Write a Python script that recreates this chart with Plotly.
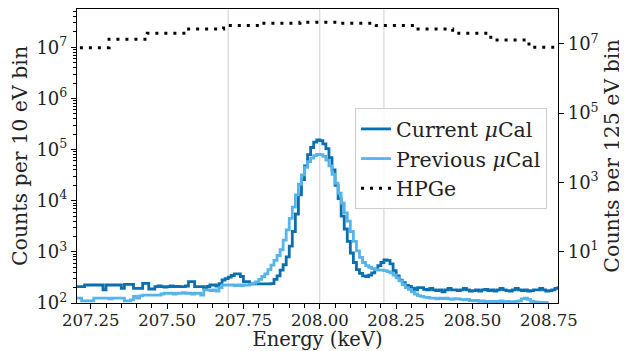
import plotly.graph_objects as go

# ---------------- data ----------------
bin_start_kev = 207.20
bin_width_kev = 0.01

current_counts = [
    209, 209, 209, 225, 225, 225, 225, 225, 225, 180,
    225, 225, 225, 225, 225, 194, 232, 232, 232, 194,
    194, 194, 243, 243, 188, 188, 209, 215, 209, 205,
    209, 215, 209, 212, 209, 209, 215, 262, 262, 209,
    209, 209, 194, 210, 225, 225, 215, 240, 282, 300,
    320, 345, 370, 370, 330, 262, 262, 236, 236, 236,
    236, 236, 236, 236, 240, 290, 340, 440, 560, 800,
    1300, 2500, 5500, 13000, 26000, 48000, 80000, 110000, 140000, 155000,
    150000, 130000, 105000, 70000, 40000, 20000, 11000, 5000, 2800, 1600,
    950, 620, 450, 380, 340, 330, 350, 390, 450, 540,
    620, 700, 680, 580, 430, 340, 280, 250, 220, 210,
    195, 180, 200, 200, 185, 180, 194, 180, 175, 180,
    166, 180, 194, 180, 180, 175, 180, 194, 180, 170,
    175, 180, 170, 180, 185, 175, 180, 170, 180, 194,
    180, 175, 170, 180, 194, 180, 175, 180, 170, 175,
    180, 180, 194, 180, 170, 175, 180, 194, 200, 190,
]

previous_counts = [
    125, 125, 110, 110, 110, 110, 125, 125, 125, 125,
    125, 120, 125, 125, 125, 125, 110, 110, 115, 135,
    125, 138, 143, 143, 143, 143, 143, 143, 150, 155,
    155, 155, 150, 155, 155, 160, 155, 155, 150, 155,
    155, 143, 180, 180, 175, 180, 170, 200, 225, 225,
    225, 225, 220, 225, 220, 225, 225, 235, 245, 260,
    290, 330, 370, 450, 550, 680, 850, 1100, 1700, 2700,
    4500, 7500, 13000, 21000, 32000, 45000, 58000, 68000, 76000, 81000,
    80000, 74000, 62000, 48000, 33000, 22000, 14000, 9000, 5800, 4000,
    2500, 1600, 1050, 780, 620, 540, 500, 470, 450, 440,
    440, 430, 410, 390, 350, 310, 270, 230, 200, 185,
    165, 150, 140, 135, 130, 128, 125, 125, 120, 125,
    122, 125, 120, 118, 122, 120, 118, 115, 118, 112,
    110, 112, 108, 110, 106, 108, 105, 108, 106, 110,
    105, 108, 106, 104, 108, 110, 120, 125, 118, 108,
    105, 104, 103, 103, 102,
]

hpge_edges_kev = [207.185, 207.31, 207.435, 207.56, 207.685, 207.81, 207.935,
                  208.06, 208.185, 208.31, 208.435, 208.56, 208.685, 208.81]
hpge_counts = [7.8e6, 1.37e7, 2.05e7, 2.72e7, 3.39e7, 3.98e7, 4.27e7,
               3.98e7, 3.39e7, 2.72e7, 2.05e7, 1.31e7, 8.05e6]

reference_lines_kev = [207.70, 208.00, 208.21]

x_tick_vals = [207.25, 207.50, 207.75, 208.00, 208.25, 208.50, 208.75]
x_tick_text = ["207.25", "207.50", "207.75", "208.00", "208.25", "208.50", "208.75"]
x_minor_vals = [207.30, 207.35, 207.40, 207.45, 207.55, 207.60, 207.65, 207.70,
                207.80, 207.85, 207.90, 207.95, 208.05, 208.10, 208.15, 208.20,
                208.30, 208.35, 208.40, 208.45, 208.55, 208.60, 208.65, 208.70]

left_tick_vals = [1e2, 1e3, 1e4, 1e5, 1e6, 1e7]
left_tick_text = ["10<sup>2</sup>", "10<sup>3</sup>", "10<sup>4</sup>",
                  "10<sup>5</sup>", "10<sup>6</sup>", "10<sup>7</sup>"]
right_tick_vals = [1e1, 1e3, 1e5, 1e7]
right_tick_text = ["10<sup>1</sup>", "10<sup>3</sup>", "10<sup>5</sup>", "10<sup>7</sup>"]

# ---------------- helpers ----------------
def step_xy(edges, counts):
    return list(edges), list(counts) + [counts[-1]]

cur_edges = [round(bin_start_kev + bin_width_kev * k, 3) for k in range(len(current_counts) + 1)]
prev_edges = [round(bin_start_kev + bin_width_kev * k, 3) for k in range(len(previous_counts) + 1)]

left_minor = [m * 10 ** d for d in range(2, 8) for m in range(2, 10)]

FONT = "DejaVu Serif"
DARK = "#0a6fae"
LIGHT = "#56b4e9"
TXT = "#222222"

fig = go.Figure()

x, y = step_xy(cur_edges, current_counts)
fig.add_trace(go.Scatter(x=x, y=y, mode="lines", line_shape="hv", legendgroup="a",
                         line=dict(color=DARK, width=2.8),
                         name="Current <i>μ</i>Cal"))
x, y = step_xy(prev_edges, previous_counts)
fig.add_trace(go.Scatter(x=x, y=y, mode="lines", line_shape="hv", legendgroup="b",
                         line=dict(color=LIGHT, width=2.8),
                         name="Previous <i>μ</i>Cal"))
x, y = step_xy(hpge_edges_kev, hpge_counts)
fig.add_trace(go.Scatter(x=x, y=y, mode="lines", line_shape="hv", yaxis="y2", legendgroup="c",
                         line=dict(color="black", width=3, dash="3px,6px"),
                         name="HPGe"))

for e in reference_lines_kev:
    fig.add_shape(type="line", xref="x", yref="paper", x0=e, x1=e, y0=0, y1=1,
                  line=dict(color="#cfcfcf", width=1), layer="below")

# The page body adds an 8px margin, so the figure is sized to fill the rest.
fig.update_layout(
    width=619, height=343,
    margin=dict(l=69, r=69, t=1, b=48),
    paper_bgcolor="white", plot_bgcolor="white",
    font=dict(family=FONT, size=17, color=TXT),
    showlegend=True,
    legend=dict(x=0.578, y=0.663, xanchor="left", yanchor="top",
                tracegroupgap=0,
                bgcolor="rgba(255,255,255,0.85)", bordercolor="#cccccc", borderwidth=1,
                font=dict(family=FONT, size=20.5, color=TXT)),
    xaxis=dict(range=[207.205, 208.78], showgrid=False, zeroline=False, automargin=False,
               showline=True, linecolor="black", linewidth=1.2, mirror=True,
               ticks="outside", ticklen=5, tickcolor="black",
               tickmode="array", tickvals=x_tick_vals, ticktext=x_tick_text,
               tickfont=dict(size=16.5), ticklabelstandoff=-3,
               minor=dict(ticks="outside", ticklen=3.5, tickcolor="black",
                          tickmode="array", tickvals=x_minor_vals),
               title=dict(text="Energy (keV)", font=dict(size=19.5), standoff=9)),
    yaxis=dict(type="log", range=[2, 7.75], showgrid=False, zeroline=False, automargin=False,
               showline=True, linecolor="black", linewidth=1.2,
               ticks="outside", ticklen=5, tickcolor="black",
               tickmode="array", tickvals=left_tick_vals, ticktext=left_tick_text,
               tickfont=dict(size=18),
               minor=dict(ticks="outside", ticklen=3, tickcolor="black",
                          tickmode="array", tickvals=left_minor),
               title=dict(text="Counts per 10 eV bin", font=dict(size=20.5), standoff=4)),
    yaxis2=dict(type="log", range=[-0.484, 8.01], overlaying="y", side="right",
                showgrid=False, zeroline=False, automargin=False,
                showline=True, linecolor="black", linewidth=1.2,
                ticks="outside", ticklen=5, tickcolor="black",
                tickmode="array", tickvals=right_tick_vals, ticktext=right_tick_text,
                tickfont=dict(size=18),
                title=dict(text="Counts per 125 eV bin", font=dict(size=20.5), standoff=7)),
)

fig.write_html("out.html")
